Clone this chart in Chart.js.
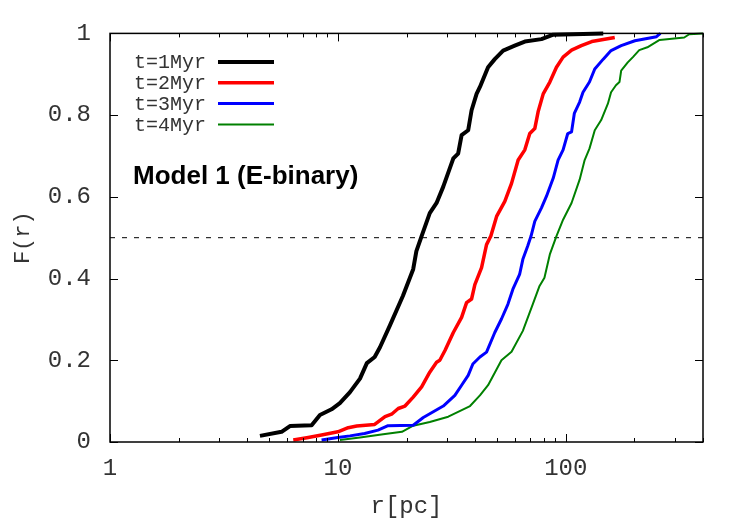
<!DOCTYPE html>
<html>
<head>
<meta charset="utf-8">
<script src="https://cdn.jsdelivr.net/npm/chart.js@4.4.1/dist/chart.umd.min.js"></script>
<style>
  html, body { margin: 0; padding: 0; background: #ffffff; }
  #wrap { width: 750px; height: 525px; position: relative; }
</style>
</head>
<body>
<div id="wrap"><canvas id="c" width="750" height="525"></canvas></div>
<script>
// ---- data ----
const seriesLabels = ["t=1Myr", "t=2Myr", "t=3Myr", "t=4Myr"];

const r1 = [4.55, 5.66, 6.16, 7.67, 8.34, 9.38, 10.2, 11.3, 12.5, 13.4, 14.5, 15.3, 16.9, 19.3, 21.4, 22.1, 23.3, 25.3, 27.1, 29.0, 32.1, 33.7, 34.9, 37.3, 38.6, 40.6, 42.0, 45.6, 48.8, 53.1, 59.7, 66.1, 78.2, 88.1, 146];
const F1 = [0.015, 0.025, 0.039, 0.041, 0.066, 0.080, 0.095, 0.122, 0.155, 0.193, 0.208, 0.232, 0.285, 0.358, 0.423, 0.467, 0.504, 0.560, 0.585, 0.625, 0.694, 0.706, 0.751, 0.763, 0.812, 0.852, 0.869, 0.917, 0.937, 0.958, 0.970, 0.980, 0.986, 0.997, 1.0];

const r2 = [6.37, 7.41, 8.48, 10.0, 11.1, 12.1, 14.5, 16.1, 17.2, 18.4, 19.7, 21.4, 23.3, 25.3, 27.1, 28.0, 29.5, 32.1, 34.9, 36.7, 38.6, 39.9, 42.7, 44.9, 46.9, 49.7, 54.0, 57.8, 61.8, 66.1, 69.5, 73.1, 75.6, 79.6, 85.1, 91.0, 97.3, 106, 117, 130, 164];
const F2 = [0.005, 0.011, 0.017, 0.025, 0.035, 0.039, 0.043, 0.062, 0.068, 0.082, 0.088, 0.110, 0.135, 0.171, 0.195, 0.200, 0.224, 0.268, 0.305, 0.341, 0.350, 0.385, 0.427, 0.483, 0.504, 0.552, 0.589, 0.633, 0.690, 0.715, 0.755, 0.767, 0.808, 0.852, 0.881, 0.917, 0.942, 0.959, 0.970, 0.980, 0.990];

const r3 = [8.48, 10.0, 11.3, 13.1, 15.0, 16.6, 21.4, 23.7, 29.0, 32.6, 34.9, 37.3, 39.1, 42.0, 44.9, 48.8, 52.2, 55.7, 58.6, 62.7, 64.8, 68.0, 70.4, 73.1, 78.2, 82.2, 88.1, 92.5, 97.3, 102, 106, 109, 115, 119, 127, 134, 146, 158, 175, 201, 250, 260];
const F3 = [0.005, 0.011, 0.015, 0.021, 0.029, 0.040, 0.041, 0.060, 0.088, 0.114, 0.139, 0.163, 0.191, 0.208, 0.220, 0.268, 0.301, 0.337, 0.374, 0.410, 0.447, 0.479, 0.504, 0.540, 0.573, 0.601, 0.646, 0.690, 0.715, 0.755, 0.759, 0.804, 0.832, 0.856, 0.881, 0.913, 0.937, 0.958, 0.970, 0.982, 0.992, 1.0];

const r4 = [10.2, 12.5, 15.8, 19.1, 21.4, 25.3, 30.5, 38.0, 42.0, 45.6, 52.2, 57.8, 64.8, 71.6, 76.7, 80.6, 85.1, 91.0, 97.3, 106, 115, 121, 127, 134, 143, 153, 158, 166, 172, 175, 187, 197, 210, 228, 258, 331, 348, 400];
const F4 = [0.005, 0.011, 0.019, 0.025, 0.040, 0.049, 0.062, 0.088, 0.114, 0.139, 0.200, 0.221, 0.272, 0.337, 0.382, 0.402, 0.459, 0.504, 0.544, 0.585, 0.642, 0.690, 0.718, 0.763, 0.788, 0.828, 0.856, 0.873, 0.881, 0.909, 0.929, 0.942, 0.959, 0.966, 0.984, 0.990, 0.998, 1.0];

const halfLineR = [1, 400];
const halfLineF = [0.5, 0.5];

const xMajorTicks = [1, 10, 100];
const xMinorTicks = [2, 3, 4, 5, 6, 7, 8, 9, 20, 30, 40, 50, 60, 70, 80, 90, 200, 300, 400];
const yTicks = [0, 0.2, 0.4, 0.6, 0.8, 1];
const modelText = "Model 1 (E-binary)";
const xTitle = "r[pc]";
const yTitle = "F(r)";

// ---- build datasets ----
function pts(xs, ys) { return xs.map((x, i) => ({ x: x, y: ys[i] })); }
const colors = ["#000000", "#ff0000", "#0000ff", "#008000"];
const widths = [4, 3.5, 3, 2];
const allR = [r1, r2, r3, r4];
const allF = [F1, F2, F3, F4];

const datasets = seriesLabels.map((lab, i) => ({
  label: lab,
  data: pts(allR[i], allF[i]),
  borderColor: colors[i],
  borderWidth: widths[i],
  pointRadius: 0,
  fill: false,
  tension: 0,
  clip: false,
  borderJoinStyle: "round"
}));
datasets.push({
  label: "half",
  data: pts(halfLineR, halfLineF),
  borderColor: "#000000",
  borderWidth: 1,
  borderDash: [5, 7],
  pointRadius: 0,
  fill: false,
  clip: false
});

const monoFont = "'Liberation Mono', 'Courier New', monospace";
const textColor = "#333333";

const framePlugin = {
  id: "frame",
  afterDatasetsDraw(chart) {
    const { ctx, chartArea: a, scales } = chart;
    const xs = scales.x, ys = scales.y;
    ctx.save();
    ctx.strokeStyle = "#000";
    ctx.lineWidth = 1;
    ctx.beginPath();
    const major = 8, minor = 4;
    xMajorTicks.forEach(v => {
      const p = Math.round(xs.getPixelForValue(v)) + 0.5;
      ctx.moveTo(p, a.bottom); ctx.lineTo(p, a.bottom - major);
      ctx.moveTo(p, a.top); ctx.lineTo(p, a.top + major);
    });
    xMinorTicks.forEach(v => {
      const p = Math.round(xs.getPixelForValue(v)) + 0.5;
      ctx.moveTo(p, a.bottom); ctx.lineTo(p, a.bottom - minor);
      ctx.moveTo(p, a.top); ctx.lineTo(p, a.top + minor);
    });
    yTicks.forEach(v => {
      const p = Math.round(ys.getPixelForValue(v)) + 0.5;
      ctx.moveTo(a.left, p); ctx.lineTo(a.left + major, p);
      ctx.moveTo(a.right, p); ctx.lineTo(a.right - major, p);
    });
    ctx.stroke();
    ctx.lineWidth = 1.5;
    ctx.strokeRect(a.left, a.top, a.right - a.left, a.bottom - a.top);

    // legend
    ctx.font = "20px " + monoFont;
    ctx.fillStyle = textColor;
    ctx.textAlign = "right";
    ctx.textBaseline = "middle";
    for (let i = 0; i < 4; i++) {
      const ds = chart.data.datasets[i];
      const y = 62 + i * 20.8;
      ctx.fillText(ds.label, 206, y + 1);
      ctx.strokeStyle = ds.borderColor;
      ctx.lineWidth = ds.borderWidth;
      ctx.beginPath();
      ctx.moveTo(218, y); ctx.lineTo(274, y);
      ctx.stroke();
    }
    // model label
    ctx.font = "bold 26px 'Liberation Sans', Arial, sans-serif";
    ctx.fillStyle = "#000";
    ctx.textAlign = "left";
    ctx.textBaseline = "alphabetic";
    ctx.fillText(modelText, 133, 184);
    ctx.restore();
  }
};

new Chart(document.getElementById("c"), {
  type: "line",
  data: { datasets: datasets },
  options: {
    responsive: false,
    animation: false,
    devicePixelRatio: 1,
    layout: { padding: { top: 31, right: 47, left: 0, bottom: 0 } },
    plugins: { legend: { display: false }, tooltip: { enabled: false } },
    scales: {
      x: {
        type: "logarithmic",
        min: 1, max: 400,
        grid: { display: false, drawTicks: false },
        border: { display: false },
        afterBuildTicks(s) { s.ticks = xMajorTicks.map(v => ({ value: v })); },
        afterFit(s) { s.height = 83; },
        ticks: {
          font: { family: monoFont, size: 24 },
          color: textColor,
          padding: 12,
          maxRotation: 0,
          autoSkip: false,
          callback: v => String(v)
        },
        title: {
          display: true, text: xTitle,
          font: { family: monoFont, size: 24 },
          color: textColor,
          padding: { top: 0, bottom: 4 }
        }
      },
      y: {
        min: 0, max: 1,
        grid: { display: false, drawTicks: false },
        border: { display: false },
        afterBuildTicks(s) { s.ticks = yTicks.map(v => ({ value: v })); },
        afterFit(s) { s.width = 110; },
        ticks: {
          font: { family: monoFont, size: 24 },
          color: textColor,
          padding: 19,
          callback: v => (v === 0 ? "0" : v === 1 ? "1" : v.toFixed(1))
        },
        title: {
          display: true, text: yTitle,
          font: { family: monoFont, size: 22 },
          color: textColor,
          padding: { top: 10, bottom: 0 }
        }
      }
    }
  },
  plugins: [framePlugin]
});
</script>
</body>
</html>
